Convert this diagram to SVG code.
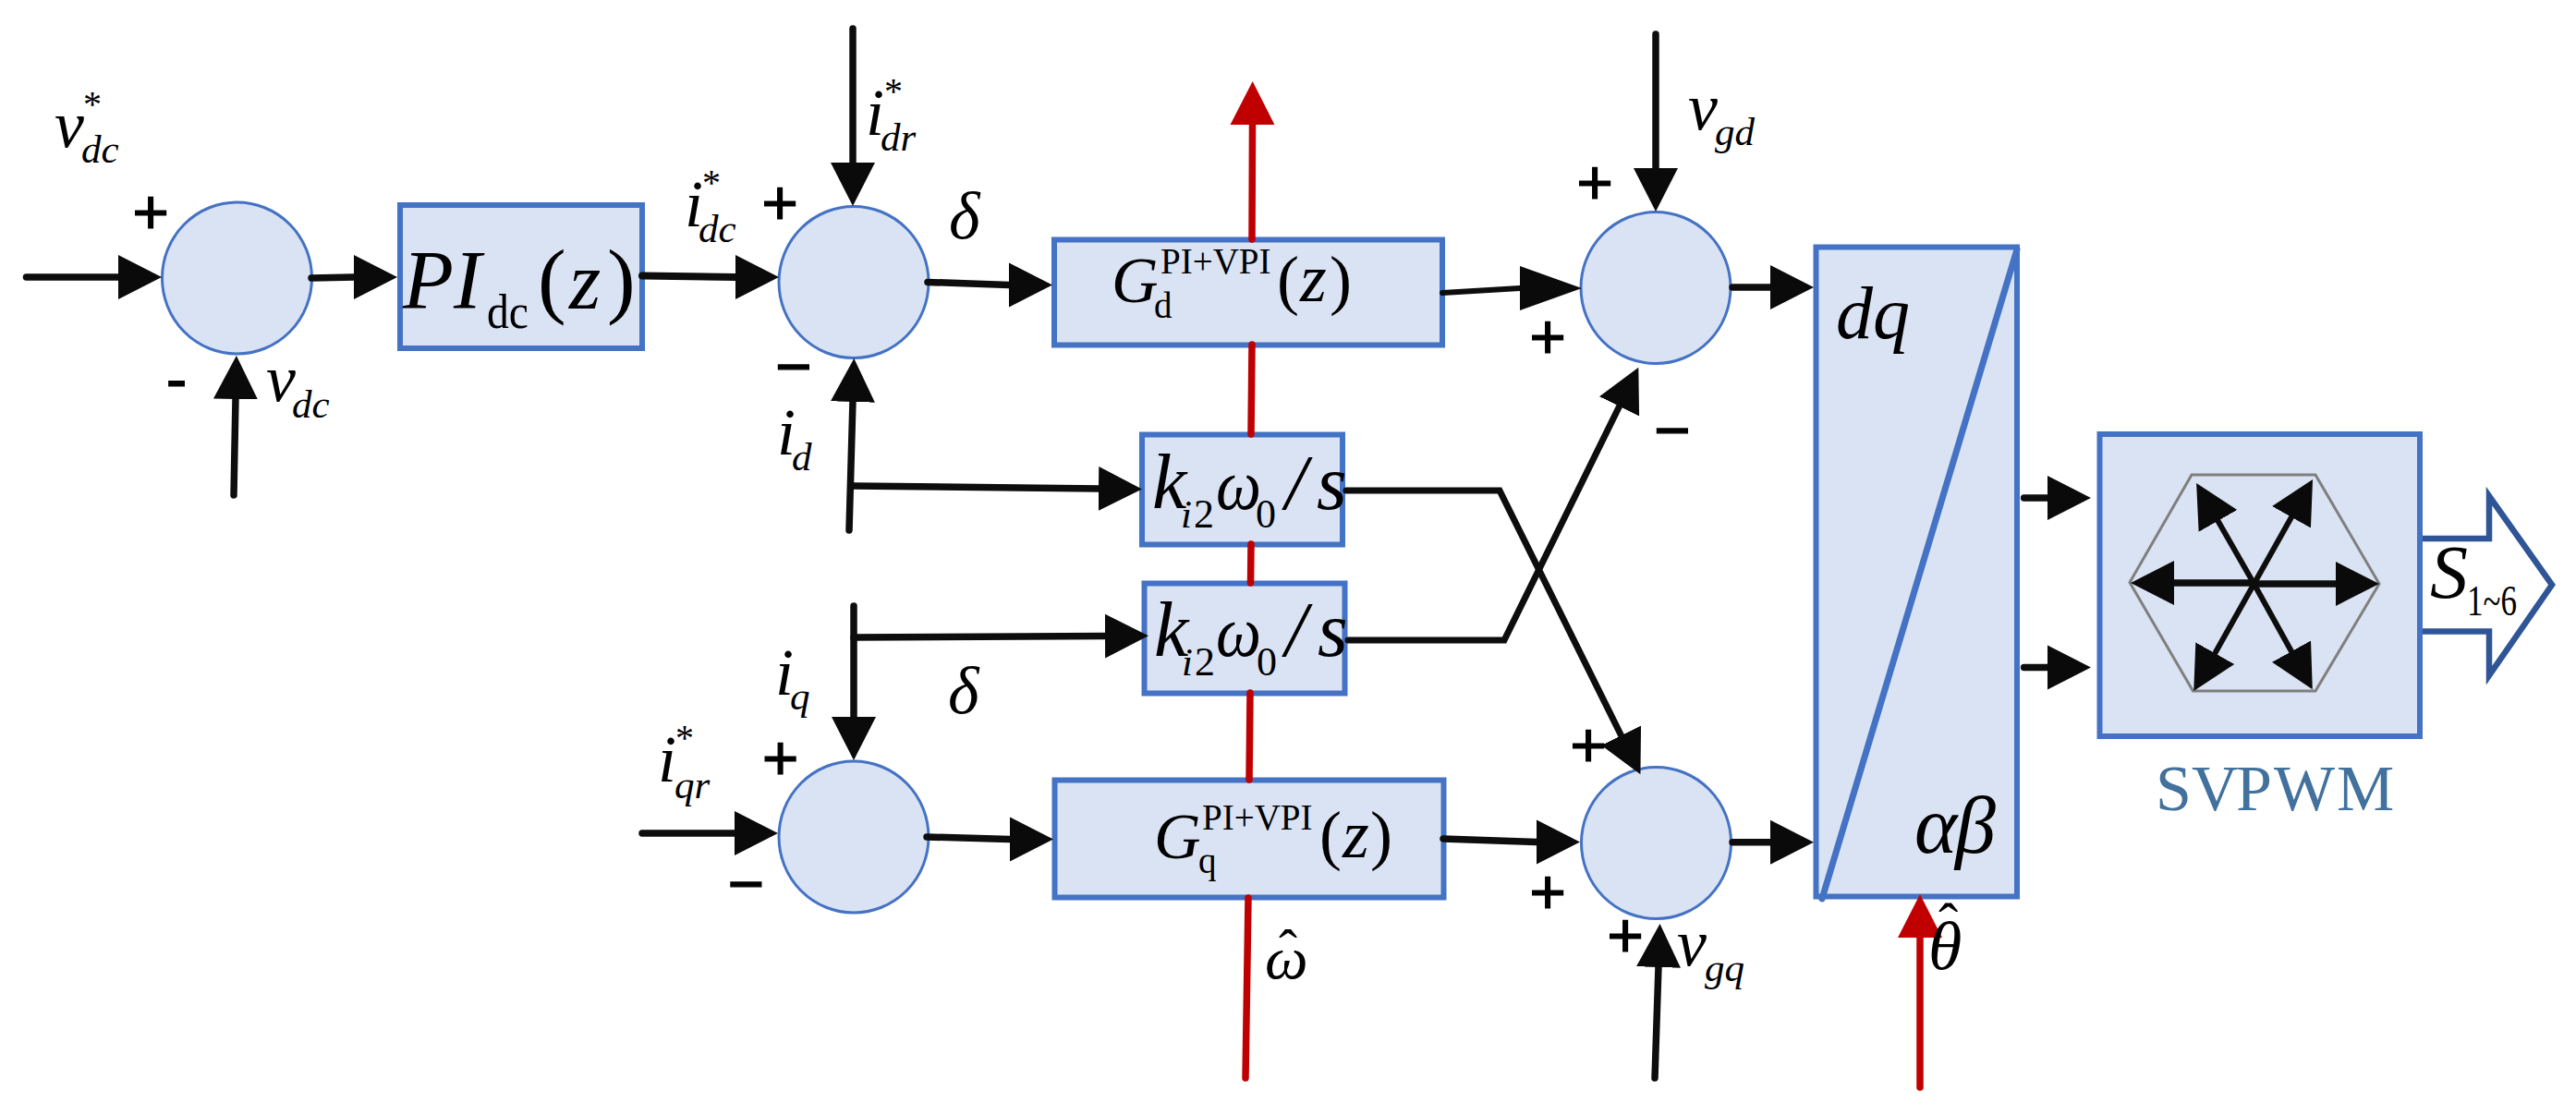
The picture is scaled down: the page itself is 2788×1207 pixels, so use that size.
<svg xmlns="http://www.w3.org/2000/svg" width="2788" height="1207" viewBox="0 0 2788 1207">
<style>
text{font-family:"Liberation Serif","Times New Roman",serif;fill:#000}
.sum{fill:#DAE3F3;stroke:#4472C4;stroke-width:3}
.box{fill:#DAE3F3;stroke:#4472C4;stroke-width:6}
.wire{fill:none;stroke:#0D0D0D;stroke-width:7.5;stroke-linecap:round;stroke-linejoin:miter;marker-end:url(#head)}
.red{fill:none;stroke:#C00000;stroke-width:7.5;stroke-linecap:round;marker-end:url(#headRed)}
.v{font-style:italic;font-size:72px}
.s{font-style:italic;font-size:43px}
.star{font-size:40px}
.pm{font-family:"Liberation Sans",Arial,sans-serif;font-size:68px;text-anchor:middle;stroke:#000;stroke-width:1.2}
.sup{font-size:39px}
.k{font-style:italic;font-size:84px}
.w{font-style:italic;font-size:78px}
.n{font-size:44px}
.par{font-size:72px}
.zi{font-style:italic;font-size:74px}
</style>
<defs>
<marker id="head" markerUnits="userSpaceOnUse" viewBox="0 0 48 50" refX="1" refY="25" markerWidth="48" markerHeight="50" orient="auto"><path d="M0 1V49L47 25Z" fill="#0A0A0A"/></marker>
<marker id="headLong" markerUnits="userSpaceOnUse" viewBox="0 0 68 48" refX="1" refY="24" markerWidth="68" markerHeight="48" orient="auto"><path d="M0 0V48L67 24Z" fill="#0A0A0A"/></marker>
<marker id="headRed" markerUnits="userSpaceOnUse" viewBox="0 0 48 50" refX="1" refY="25" markerWidth="48" markerHeight="50" orient="auto"><path d="M0 1V49L47 25Z" fill="#C00000"/></marker>
</defs>

<g id="sum-dc"><ellipse class="sum" cx="256.5" cy="301" rx="81" ry="82"/></g>
<g id="pi-dc"><rect class="box" x="433" y="222" width="262" height="155"/>
<text><tspan style="font-style:italic;font-size:90px" x="436" y="334">PI</tspan><tspan style="font-size:52px" x="527" y="355" textLength="45" lengthAdjust="spacingAndGlyphs">dc</tspan><tspan style="font-size:92px" x="582" y="333">(</tspan><tspan style="font-style:italic;font-size:88px" x="616" y="334">z</tspan><tspan style="font-size:92px" x="657" y="333">)</tspan></text></g>
<g id="sum-d"><ellipse class="sum" cx="924" cy="305.5" rx="81" ry="82"/></g>
<g id="g-d"><rect class="box" x="1141" y="259.5" width="420" height="114"/>
<text><tspan style="font-style:italic;font-size:70px" x="1203" y="327">G</tspan><tspan class="sup" x="1256" y="296">PI+VPI</tspan><tspan class="sup" x="1249" y="344">d</tspan><tspan class="par" x="1382" y="327">(</tspan><tspan class="zi" x="1407" y="326">z</tspan><tspan class="par" x="1439" y="327">)</tspan></text></g>
<g id="k-d"><rect class="box" x="1236" y="470.5" width="217" height="119"/>
<text><tspan class="k" x="1247" y="550">k</tspan><tspan class="s" x="1278" y="571">i</tspan><tspan class="n" x="1292" y="571">2</tspan><tspan class="w" x="1316" y="551" textLength="49" lengthAdjust="spacingAndGlyphs">ω</tspan><tspan class="n" x="1359" y="571">0</tspan><tspan class="k" x="1391" y="551">/</tspan><tspan class="k" x="1425" y="551">s</tspan></text></g>
<g id="k-q"><rect class="box" x="1238.5" y="631.5" width="217" height="119"/>
<text><tspan class="k" x="1249" y="710">k</tspan><tspan class="s" x="1279" y="731">i</tspan><tspan class="n" x="1293" y="731">2</tspan><tspan class="w" x="1316" y="710" textLength="49" lengthAdjust="spacingAndGlyphs">ω</tspan><tspan class="n" x="1360" y="731">0</tspan><tspan class="k" x="1391" y="710">/</tspan><tspan class="k" x="1426" y="710">s</tspan></text></g>
<g id="sum-q"><ellipse class="sum" cx="924" cy="906" rx="81" ry="82"/></g>
<g id="g-q"><rect class="box" x="1141.5" y="844.5" width="421" height="127"/>
<text><tspan style="font-style:italic;font-size:70px" x="1249" y="929">G</tspan><tspan class="sup" x="1301" y="898">PI+VPI</tspan><tspan class="sup" x="1297" y="945">q</tspan><tspan class="par" x="1428" y="928">(</tspan><tspan class="zi" x="1453" y="928">z</tspan><tspan class="par" x="1483" y="928">)</tspan></text></g>
<g id="sum-vd"><ellipse class="sum" cx="1792" cy="311.5" rx="81" ry="82"/></g>
<g id="sum-vq"><ellipse class="sum" cx="1792.5" cy="912.5" rx="81" ry="82"/></g>
<g id="dq-ab"><rect class="box" x="1965.5" y="267.5" width="217.5" height="703"/>
<path d="M1972 973L2183 270" fill="none" stroke="#4472C4" stroke-width="7" stroke-linecap="round"/>
<text style="font-style:italic;font-size:80px" x="1987" y="366">dq</text>
<text style="font-style:italic;font-size:88px"><tspan x="2072" y="923">α</tspan><tspan x="2116" y="923">β</tspan></text></g>
<g id="svpwm"><rect class="box" x="2272.5" y="470" width="346.5" height="327"/>
<path d="M2372 514H2506L2575 632L2506 748H2373.5L2305 630.5Z" fill="none" stroke="#7F7F7F" stroke-width="3"/>
<text x="2333 2372 2420 2461 2529" y="877" style="font-size:70px;fill:#41719C">SVPWM</text></g>
<g id="output"><path d="M2622 583H2694V537L2762 633L2694 731V683.5H2622" fill="#fff" stroke="#2F5597" stroke-width="6.5"/>
<text><tspan style="font-style:italic;font-size:82px" x="2630" y="647">S</tspan><tspan style="font-size:46px" x="2670" y="666" textLength="54" lengthAdjust="spacingAndGlyphs">1~6</tspan></text></g>

<g id="connectors">
<path class="red" d="M1348 1167L1351 972M1352 844L1353 750M1353.5 631L1354 589M1354 470L1355 373M1355 259L1355.5 134"/>
<path class="red" d="M2078 1177V1014"/>
<path class="wire" d="M28.5 300H129"/>
<path class="wire" d="M337 301L383 300H384"/>
<path class="wire" d="M695 298.5L796 300H797" style="stroke-width:8"/>
<path class="wire" d="M253 536L255 431"/>
<path class="wire" d="M923 31V177"/>
<path class="wire" d="M919 574L923 434"/>
<path class="wire" d="M923 526L1190 529"/>
<path class="wire" d="M1004 305.4L1092 308.5H1093"/>
<path class="wire" d="M1561 317L1645 312H1646" style="marker-end:url(#headLong);stroke-width:6"/>
<path class="wire" d="M1792 37V183"/>
<path class="wire" d="M1875 311H1917"/>
<path class="wire" d="M1457 531H1623L1755 797" style="stroke-width:7"/>
<path class="wire" d="M1459 693H1628L1753 439" style="stroke-width:7"/>
<path class="wire" d="M924 656V777"/>
<path class="wire" d="M924 690L1197 688.6"/>
<path class="wire" d="M695 902H796"/>
<path class="wire" d="M1003 906L1093 908.5H1094"/>
<path class="wire" d="M1562 908L1663 911.5H1664"/>
<path class="wire" d="M1875 911.7H1917"/>
<path class="wire" d="M1791 1167L1795 1046"/>
<path class="wire" d="M2190.6 539H2217"/>
<path class="wire" d="M2190.6 722.4H2217"/>
<path class="wire" d="M2439.5 632H2529"/>
<path class="wire" d="M2439.5 631H2352"/>
<path class="wire" d="M2439.5 632L2400 563" style="stroke-width:6"/>
<path class="wire" d="M2439.5 632L2480.5 559" style="stroke-width:6"/>
<path class="wire" d="M2439.5 632L2396.8 708" style="stroke-width:6"/>
<path class="wire" d="M2439.5 632L2480.5 706" style="stroke-width:6"/>
</g>

<g id="labels">
<text><tspan class="v" x="59" y="159">v</tspan><tspan class="star" x="90" y="126">*</tspan><tspan class="s" x="88" y="176">dc</tspan></text>
<text><tspan class="v" x="288" y="434">v</tspan><tspan class="s" x="316" y="452">dc</tspan></text>
<text><tspan class="v" x="741" y="245">i</tspan><tspan class="star" x="760" y="211">*</tspan><tspan class="s" x="756" y="262">dc</tspan></text>
<text><tspan class="v" x="937" y="146">i</tspan><tspan class="star" x="957" y="112">*</tspan><tspan class="s" x="953" y="163">dr</tspan></text>
<text><tspan class="v" x="841" y="492">i</tspan><tspan class="s" x="857" y="509">d</tspan></text>
<text class="v" x="1027" y="258">δ</text>
<text class="v" x="1026" y="772">δ</text>
<text><tspan class="v" x="839" y="752">i</tspan><tspan class="s" x="855" y="768">q</tspan></text>
<text><tspan class="v" x="712" y="846">i</tspan><tspan class="star" x="731" y="812">*</tspan><tspan class="s" x="730" y="864">qr</tspan></text>
<text><tspan class="v" x="1827" y="140">v</tspan><tspan class="s" x="1856" y="157">gd</tspan></text>
<text><tspan class="v" x="1815" y="1045">v</tspan><tspan class="s" x="1845" y="1062">gq</tspan></text>
<text><tspan style="font-style:italic;font-size:66px" x="1369" y="1059">ω</tspan><tspan style="font-size:60px" x="1384" y="1047">ˆ</tspan></text>
<text><tspan style="font-style:italic;font-size:74px" x="2087" y="1049">θ</tspan><tspan style="font-size:64px" x="2098" y="1022">ˆ</tspan></text>
<text class="pm" x="163" y="253">+</text>
<text class="pm" x="191" y="434">-</text>
<text class="pm" x="844" y="243">+</text>
<text class="pm" x="859" y="420">−</text>
<text class="pm" x="1726" y="221">+</text>
<text class="pm" x="1675" y="388">+</text>
<text class="pm" x="1810" y="489">−</text>
<text class="pm" x="844.5" y="844">+</text>
<text class="pm" x="807.5" y="980">−</text>
<text class="pm" x="1719" y="830">+</text>
<text class="pm" x="1675" y="989">+</text>
<text class="pm" x="1759" y="1036">+</text>
</g>
</svg>
